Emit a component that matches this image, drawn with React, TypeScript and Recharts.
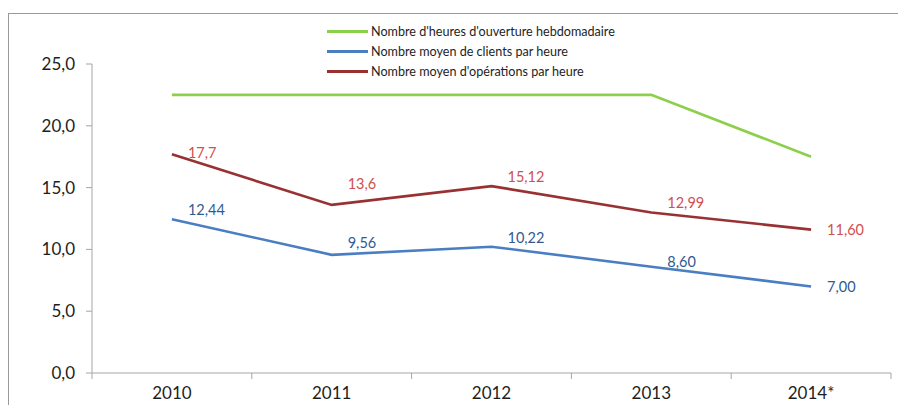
import React from 'react';
import { LineChart, Line, XAxis, YAxis, LabelList } from 'recharts';

const years = ['2010', '2011', '2012', '2013', '2014*'];
const hoursOpen = [22.5, 22.5, 22.5, 22.5, 17.5];
const clientsPerHour = [12.44, 9.56, 10.22, 8.6, 7.0];
const operationsPerHour = [17.7, 13.6, 15.12, 12.99, 11.6];
const clientsLabels = ['12,44', '9,56', '10,22', '8,60', '7,00'];
const operationsLabels = ['17,7', '13,6', '15,12', '12,99', '11,60'];
const yTicks = [0, 5, 10, 15, 20, 25];
const xTicks = [-0.5, 0, 0.5, 1, 1.5, 2, 2.5, 3, 3.5, 4, 4.5];

// vertical label nudges (style only)
const clientsLabelDy = [-10, -12, -9, -5, 0];
const operationsLabelDy = [-2, -21, -10, -10, 0];

const seriesNames = [
  "Nombre d'heures d'ouverture hebdomadaire",
  'Nombre moyen de clients par heure',
  "Nombre moyen d'opérations par heure",
];

const GREEN = '#8CCF4A';
const BLUE = '#4A7EC3';
const RED = '#993133';
const BLUE_TXT = '#2F5B93';
const RED_TXT = '#D0504F';
const FONT = 'Lato, "Open Sans", sans-serif';

const data = years.map((y, i) => ({
  x: i,
  year: y,
  hours: hoursOpen[i],
  clients: clientsPerHour[i],
  operations: operationsPerHour[i],
}));

const XTick = (props: any) => {
  const { x, y, payload } = props;
  const v = payload.value;
  if (Math.abs(v - Math.round(v)) > 0.1) {
    return <line x1={x} x2={x} y1={y} y2={y + 6} stroke="#A6A6A6" strokeWidth={1} />;
  }
  return (
    <text x={x} y={y + 19} textAnchor="middle" dominantBaseline="central" fill="#1E1E1E" fontSize={17} fontFamily={FONT}>
      {years[Math.round(v)]}
    </text>
  );
};

const makeLabel = (texts: string[], dys: number[], color: string) => (props: any) => {
  const { x, y, index } = props;
  return (
    <text x={x + 16} y={y + dys[index]} textAnchor="start" dominantBaseline="central" fill={color} fontSize={14.5} fontFamily={FONT}>
      {texts[index]}
    </text>
  );
};

export default function App() {
  const colors = [GREEN, BLUE, RED];
  return (
    <div style={{ position: 'relative', width: 898, height: 397, overflow: 'hidden', background: '#fff' }}>
      <div style={{ position: 'absolute', left: 0, top: 5, width: 2000, height: 2000, borderTop: '1px solid #999', borderLeft: '1px solid #999' }} />
      <LineChart width={898} height={397} data={data} margin={{ top: 56, right: 15, bottom: 2, left: 24 }} style={{ position: 'absolute', left: 0, top: 0 }}>
        <XAxis
          dataKey="x"
          type="number"
          domain={[-0.5, 4.5]}
          ticks={xTicks}
          interval={0}
          tickLine={false}
          tickSize={0}
          tickMargin={0}
          axisLine={{ stroke: '#A6A6A6' }}
          tick={<XTick />}
          height={30}
        />
        <YAxis
          domain={[0, 25]}
          ticks={yTicks}
          interval={0}
          width={60}
          tickSize={6}
          tickMargin={11}
          axisLine={{ stroke: '#A6A6A6' }}
          tickLine={{ stroke: '#A6A6A6' }}
          tickFormatter={(v: number) => v.toFixed(1).replace('.', ',')}
          tick={{ fill: '#1E1E1E', fontSize: 17, fontFamily: FONT }}
        />
        <Line dataKey="hours" stroke={GREEN} strokeWidth={2.6} dot={false} isAnimationActive={false} />
        <Line dataKey="clients" stroke={BLUE} strokeWidth={2.6} dot={false} isAnimationActive={false}>
          <LabelList dataKey="clients" content={makeLabel(clientsLabels, clientsLabelDy, BLUE_TXT)} />
        </Line>
        <Line dataKey="operations" stroke={RED} strokeWidth={2.6} dot={false} isAnimationActive={false}>
          <LabelList dataKey="operations" content={makeLabel(operationsLabels, operationsLabelDy, RED_TXT)} />
        </Line>
      </LineChart>
      <div style={{ position: 'absolute', left: 319, top: 13, fontFamily: FONT, fontSize: 12.6, color: '#1E1E1E' }}>
        {seriesNames.map((n, i) => (
          <div key={n} style={{ display: 'flex', alignItems: 'center', height: 20 }}>
            <div style={{ width: 41, height: 3, background: colors[i], marginRight: 3 }} />
            <span>{n}</span>
          </div>
        ))}
      </div>
    </div>
  );
}
